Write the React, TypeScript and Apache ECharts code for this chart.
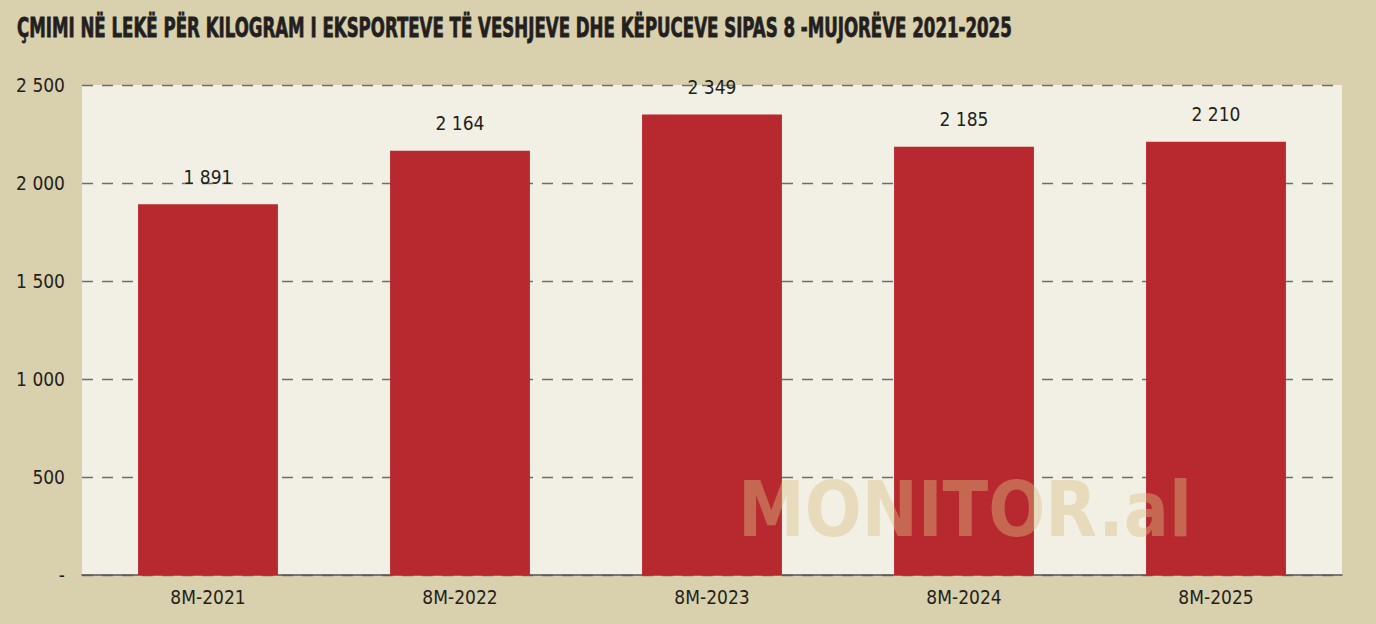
import React, { useEffect, useRef } from "react";
import * as echarts from "echarts";

const title = "ÇMIMI NË LEKË PËR KILOGRAM I EKSPORTEVE TË VESHJEVE DHE KËPUCEVE SIPAS 8 -MUJORËVE 2021-2025";
const categories = ["8M-2021", "8M-2022", "8M-2023", "8M-2024", "8M-2025"];
const values = [1891, 2164, 2349, 2185, 2210];
const yTicks = [0, 500, 1000, 1500, 2000, 2500];

const FONT = "'Liberation Sans Narrow', 'DejaVu Sans Condensed', Roboto, sans-serif";

function fmt(v: number): string {
  if (v === 0) return "-";
  return String(v).replace(/\B(?=(\d{3})+(?!\d))/g, " ");
}

export default function App() {
  const ref = useRef<HTMLDivElement>(null);
  useEffect(() => {
    if (!ref.current) return;
    const chart = echarts.init(ref.current, undefined, { renderer: "svg" });
    chart.setOption({
      animation: false,
      backgroundColor: "#d9d0ad",
      textStyle: { fontFamily: FONT },
      grid: {
        left: 82,
        right: 34,
        top: 85,
        bottom: 49,
        show: true,
        backgroundColor: "#f2f0e4",
        borderWidth: 0,
      },
      graphic: [
        {
          type: "text",
          x: 17,
          y: 14,
          scaleX: 0.685,
          style: {
            text: title,
            font: "bold 27px " + FONT,
            fill: "#231f20",
            textVerticalAlign: "top",
            stroke: "#231f20",
            lineWidth: 0.8,
          },
        },
        {
          type: "text",
          x: 738,
          y: 472,
          scaleX: 0.98,
          z: 100,
          style: {
            text: "MONITOR.al",
            font: "bold 76px " + FONT,
            fill: "rgba(218,190,130,0.42)",
            textVerticalAlign: "top",
          },
        },
      ],
      xAxis: {
        type: "category",
        data: categories,
        axisLine: { lineStyle: { color: "#555", width: 1.5 } },
        axisTick: { show: false },
        axisLabel: { color: "#231f20", fontSize: 19, margin: 12, fontFamily: FONT },
      },
      yAxis: {
        type: "value",
        min: 0,
        max: yTicks[yTicks.length - 1],
        interval: 500,
        axisLine: { show: false },
        axisTick: { show: false },
        axisLabel: {
          color: "#231f20",
          fontSize: 19,
          margin: 17,
          fontFamily: FONT,
          formatter: (v: number) => fmt(v),
        },
        splitLine: { lineStyle: { color: "#6d6d6d", type: [11, 9], width: 1.3 } },
      },
      series: [
        {
          type: "bar",
          data: values,
          barWidth: "55.5%",
          itemStyle: { color: "#b8282f" },
          label: {
            show: true,
            position: "top",
            distance: 18,
            color: "#231f20",
            fontSize: 19,
            fontFamily: FONT,
            formatter: (p: any) => fmt(p.value),
          },
        },
      ],
    });
    return () => chart.dispose();
  }, []);
  return <div ref={ref} style={{ position: "fixed", left: 0, top: 0, width: 1376, height: 624 }} />;
}
